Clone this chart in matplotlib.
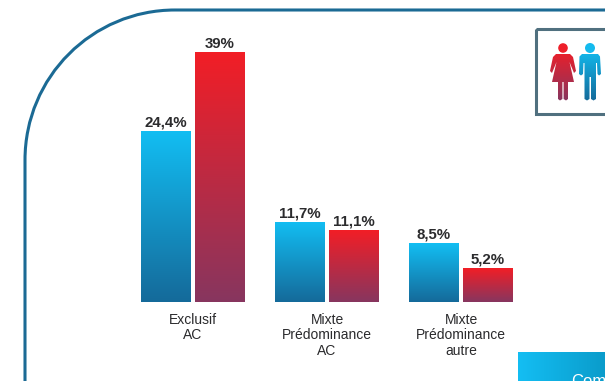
#!/usr/bin/env python3
"""Exclusif / mixte bar chart, gradient bars with the rounded frame around it"""

import matplotlib
matplotlib.use('Agg')
import matplotlib.pyplot as plt
import numpy as np
from matplotlib.colors import LinearSegmentedColormap
from matplotlib.patches import Circle, PathPatch, Rectangle
from matplotlib.path import Path

plt.rcParams['font.family'] = ['Liberation Sans', 'DejaVu Sans']

W, H = 605, 381

categories = ["Exclusif\nAC", "Mixte\nPrédominance\nAC", "Mixte\nPrédominance\nautre"]
# bar heights as drawn (the picture is not quite to scale with its labels)
blue_heights = [26.7, 12.5, 9.2]
red_heights = [39.0, 11.2, 5.3]
blue_labels = ["24,4%", "11,7%", "8,5%"]
red_labels = ["39%", "11,1%", "5,2%"]

BLUE = LinearSegmentedColormap.from_list("blue", ["#12BEF3", "#156A9A"])
RED = LinearSegmentedColormap.from_list("red", ["#F21E26", "#87365F"])
BUTTON = LinearSegmentedColormap.from_list("button", ["#14BEF3", "#0A9CCB"])
FRAME = "#1B6A94"
BOX = "#50707F"
TEXT = "#2B2B2D"

GRAD = np.linspace(0, 1, 256).reshape(-1, 1)


def fill_gradient(ax, patch, cmap, extent, horizontal=False):
    """Paint a gradient and clip it to the patch"""
    img = GRAD.T if horizontal else GRAD
    im = ax.imshow(img, cmap=cmap, extent=extent, aspect='auto', zorder=2,
                   origin='upper', interpolation='bilinear')
    patch.set_facecolor('none')
    patch.set_edgecolor('none')
    ax.add_patch(patch)
    im.set_clip_path(patch)


fig = plt.figure(figsize=(W / 100, H / 100), dpi=100)

# Overlay in pixel coordinates for the frame, icons and button
deco = fig.add_axes([0, 0, 1, 1])
deco.set_xlim(0, W)
deco.set_ylim(H, 0)
deco.axis('off')

k = 0.5523 * 150
frame = Path(
    [(25, H + 5), (25, 160), (25, 160 - k), (175 - k, 10), (175, 10), (W + 5, 10)],
    [Path.MOVETO, Path.LINETO, Path.CURVE4, Path.CURVE4, Path.CURVE4, Path.LINETO],
)
deco.add_patch(PathPatch(frame, fill=False, edgecolor=FRAME, lw=2.2))
deco.add_patch(Rectangle((536, 28.5), 90, 85, fill=False, edgecolor=BOX, lw=2.2))

# Woman
woman = Path(
    [(556, 54), (570, 54), (573, 57), (576, 71), (574, 73), (569.5, 62), (574, 82),
     (568, 82), (568, 99), (566, 100.5), (563.6, 99), (563.6, 82), (562.4, 82), (562.4, 99),
     (560, 100.5), (558, 99), (558, 82), (552, 82), (556.5, 62), (552, 73), (550, 71),
     (553, 57), (556, 54)],
    closed=True,
)
fill_gradient(deco, PathPatch(woman), LinearSegmentedColormap.from_list("w", ["#E8202C", "#87365F"]),
              (549, 577, 101, 53))
deco.add_patch(Circle((563, 48), 4.8, color="#EE1F2A", lw=0))

# Man
man = Path(
    [(582, 54), (598, 54), (600, 56.5), (601, 74), (599, 75.5), (597.5, 74), (597, 63),
     (596, 63), (596, 99), (593.5, 100.5), (591, 99), (591, 77), (589.5, 77), (589.5, 99),
     (587, 100.5), (584.5, 99), (584.5, 63), (583.5, 63), (583, 74), (581, 75.5),
     (579, 74), (579.5, 56.5), (582, 54)],
    closed=True,
)
fill_gradient(deco, PathPatch(man), LinearSegmentedColormap.from_list("m", ["#12B5E8", "#156A9A"]),
              (578, 602, 101, 53))
deco.add_patch(Circle((590, 48), 5, color="#14BAEE", lw=0))

# Cut off button in the lower right corner, the text runs off the picture there too
fill_gradient(deco, Rectangle((518, 352), 87, 29), BUTTON, (518, 605, H, 352), horizontal=True)
deco.text(571, 374, "Com", color="white", fontsize=12, va='top', ha='left', zorder=3)
deco.set_xlim(0, W)
deco.set_ylim(H, 0)

# Bars, baseline on pixel row 302
ax = fig.add_axes([0, (H - 302) / H, 1, 302 / H])
ax.patch.set_alpha(0)
px_per_unit = 250 / 39.0
x_lim = ((0 - 193) / 134, (W - 193) / 134)
y_lim = (0, 302 / px_per_unit)
bar_w = 50 / 134
offset = 27 / 134
x = np.arange(len(categories))

for heights, labels, cmap, shift in ((blue_heights, blue_labels, BLUE, -offset),
                                     (red_heights, red_labels, RED, offset)):
    bars = ax.bar(x + shift, heights, width=bar_w)
    for bar, h, label in zip(bars, heights, labels):
        left = bar.get_x()
        fill_gradient(ax, bar, cmap, (left, left + bar.get_width(), 0, h))
        ax.annotate(label, (left + bar.get_width() / 2, h), xytext=(0, 1),
                    textcoords='offset points', ha='center', va='bottom',
                    fontsize=10.8, fontweight='bold', color=TEXT)

ax.set_xlim(*x_lim)
ax.set_ylim(*y_lim)
ax.set_xticks(x, categories)
ax.tick_params(axis='x', length=0, pad=8, labelsize=10, labelcolor=TEXT)
ax.set_yticks([])
for spine in ax.spines.values():
    spine.set_visible(False)
for tick in ax.get_xticklabels():
    tick.set_linespacing(1.12)

fig.savefig("out.png", dpi=100)
